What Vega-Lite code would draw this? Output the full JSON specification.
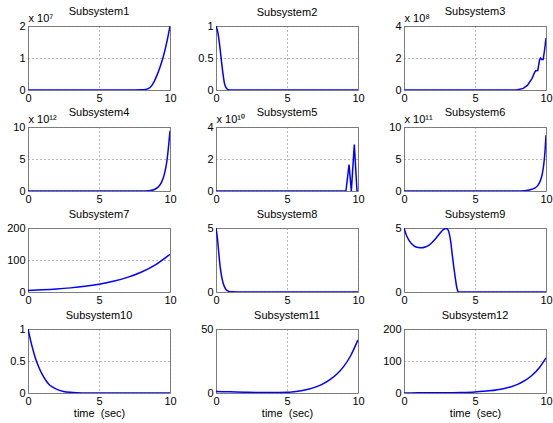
{
  "$schema": "https://vega.github.io/schema/vega-lite/v6.json",
  "background": "white",
  "padding": {"left": 6, "top": 5, "right": 5, "bottom": 5},
  "datasets": {
    "s1": [{"t":0,"v":0},{"t":5,"v":0},{"t":7.5,"v":0},{"t":8,"v":50000},{"t":8.3,"v":200000},{"t":8.5,"v":500000},{"t":8.7,"v":1300000},{"t":8.9,"v":2800000},{"t":9.1,"v":4800000},{"t":9.3,"v":7200000},{"t":9.5,"v":10000000},{"t":9.7,"v":13500000},{"t":9.85,"v":16500000},{"t":10,"v":20000000}],
    "s2": [{"t":0,"v":1},{"t":0.1,"v":0.93},{"t":0.2,"v":0.8},{"t":0.3,"v":0.62},{"t":0.4,"v":0.42},{"t":0.5,"v":0.24},{"t":0.6,"v":0.1},{"t":0.7,"v":0.04},{"t":0.8,"v":0.012},{"t":0.9,"v":0.003},{"t":1.1,"v":0},{"t":10,"v":0}],
    "s3": [{"t":0,"v":0},{"t":7.5,"v":0},{"t":8,"v":2000000},{"t":8.4,"v":10000000},{"t":8.7,"v":30000000},{"t":9.0,"v":70000000},{"t":9.2,"v":110000000},{"t":9.28,"v":120000000},{"t":9.42,"v":122000000},{"t":9.55,"v":190000000},{"t":9.62,"v":200000000},{"t":9.7,"v":190000000},{"t":9.8,"v":190000000},{"t":9.9,"v":250000000},{"t":10,"v":325000000}],
    "s4": [{"t":0,"v":0},{"t":8,"v":0},{"t":8.5,"v":50000000000},{"t":8.8,"v":150000000000},{"t":9.0,"v":350000000000},{"t":9.2,"v":700000000000},{"t":9.4,"v":1350000000000},{"t":9.6,"v":2600000000000},{"t":9.7,"v":3600000000000},{"t":9.8,"v":5000000000000},{"t":9.9,"v":7000000000000},{"t":10,"v":9400000000000}],
    "s5": [{"t":0,"v":0},{"t":9.15,"v":0},{"t":9.37,"v":16500000000},{"t":9.53,"v":0},{"t":9.74,"v":29000000000},{"t":9.93,"v":0},{"t":10,"v":0}],
    "s6": [{"t":0,"v":0},{"t":8,"v":0},{"t":8.5,"v":5000000000},{"t":8.9,"v":20000000000},{"t":9.2,"v":45000000000},{"t":9.4,"v":80000000000},{"t":9.6,"v":160000000000},{"t":9.75,"v":280000000000},{"t":9.85,"v":430000000000},{"t":9.93,"v":620000000000},{"t":10,"v":870000000000}],
    "s7": [{"t":0,"v":5},{"t":1,"v":6.9},{"t":2,"v":9.4},{"t":3,"v":12.9},{"t":4,"v":17.7},{"t":5,"v":24.3},{"t":6,"v":33.3},{"t":7,"v":45.6},{"t":8,"v":62.6},{"t":9,"v":85.8},{"t":10,"v":118}],
    "s8": [{"t":0,"v":5},{"t":0.1,"v":4.2},{"t":0.2,"v":3.0},{"t":0.3,"v":1.9},{"t":0.4,"v":1.2},{"t":0.5,"v":0.7},{"t":0.6,"v":0.4},{"t":0.7,"v":0.2},{"t":0.8,"v":0.1},{"t":0.9,"v":0.05},{"t":1.1,"v":0.01},{"t":1.5,"v":0},{"t":10,"v":0}],
    "s9": [{"t":0,"v":5.0},{"t":0.2,"v":4.35},{"t":0.4,"v":3.95},{"t":0.7,"v":3.6},{"t":1.0,"v":3.47},{"t":1.25,"v":3.45},{"t":1.5,"v":3.52},{"t":1.75,"v":3.65},{"t":2.0,"v":3.9},{"t":2.25,"v":4.2},{"t":2.5,"v":4.55},{"t":2.75,"v":4.85},{"t":2.95,"v":4.97},{"t":3.1,"v":4.85},{"t":3.2,"v":4.5},{"t":3.3,"v":3.85},{"t":3.4,"v":2.9},{"t":3.5,"v":2.0},{"t":3.6,"v":1.2},{"t":3.7,"v":0.45},{"t":3.8,"v":0.05},{"t":3.85,"v":0},{"t":10,"v":0}],
    "s10": [{"t":0,"v":1},{"t":0.25,"v":0.76},{"t":0.5,"v":0.56},{"t":0.75,"v":0.41},{"t":1,"v":0.29},{"t":1.25,"v":0.2},{"t":1.5,"v":0.13},{"t":1.75,"v":0.09},{"t":2,"v":0.06},{"t":2.5,"v":0.025},{"t":3,"v":0.01},{"t":3.5,"v":0.004},{"t":4,"v":0.001},{"t":5,"v":0},{"t":10,"v":0}],
    "s11": [{"t":0,"v":1.2},{"t":1,"v":0.9},{"t":2,"v":0.6},{"t":3,"v":0.4},{"t":4,"v":0.3},{"t":5,"v":0.5},{"t":5.5,"v":1.0},{"t":6,"v":1.8},{"t":6.5,"v":3.0},{"t":7,"v":4.6},{"t":7.5,"v":6.9},{"t":8,"v":10.2},{"t":8.5,"v":14.6},{"t":9,"v":20.8},{"t":9.5,"v":29.5},{"t":10,"v":41.5}],
    "s12": [{"t":0,"v":0.3},{"t":1,"v":0.4},{"t":2,"v":0.6},{"t":3,"v":1.0},{"t":4,"v":1.7},{"t":5,"v":3.3},{"t":6,"v":6.7},{"t":7,"v":13.4},{"t":7.5,"v":19},{"t":8,"v":27},{"t":8.5,"v":38.5},{"t":9,"v":54.6},{"t":9.5,"v":77.5},{"t":10,"v":110}]
  },
  "columns": 3,
  "spacing": {"row": 37, "column": 46},
  "bounds": "flush",
  "concat": [
    {"title":{"text":"Subsystem1","offset":-5},"width":142,"height":64,"data":{"name":"s1"},"mark":{"type":"line","interpolate":"monotone","clip":true},
     "encoding":{"x":{"field":"t","type":"quantitative","scale":{"domain":[0,10]},"axis":{"values":[0,5,10],"title":null}},
                 "y":{"field":"v","type":"quantitative","scale":{"domain":[0,20000000]},"axis":{"values":[0,10000000,20000000],"labelExpr":"format(datum.value/10000000,'~g')","title":"x 10⁷"}}}},
    {"title":{"text":"Subsystem2","offset":2},"width":142,"height":64,"data":{"name":"s2"},"mark":{"type":"line","interpolate":"monotone","clip":true},
     "encoding":{"x":{"field":"t","type":"quantitative","scale":{"domain":[0,10]},"axis":{"values":[0,5,10],"title":null}},
                 "y":{"field":"v","type":"quantitative","scale":{"domain":[0,1]},"axis":{"values":[0,0.5,1],"labelExpr":"'' + datum.value","title":null}}}},
    {"title":{"text":"Subsystem3","offset":-5},"width":142,"height":64,"data":{"name":"s3"},"mark":{"type":"line","clip":true},
     "encoding":{"x":{"field":"t","type":"quantitative","scale":{"domain":[0,10]},"axis":{"values":[0,5,10],"title":null}},
                 "y":{"field":"v","type":"quantitative","scale":{"domain":[0,400000000]},"axis":{"values":[0,200000000,400000000],"labelExpr":"format(datum.value/100000000,'~g')","title":"x 10⁸"}}}},
    {"title":{"text":"Subsystem4","offset":-5},"width":142,"height":64,"data":{"name":"s4"},"mark":{"type":"line","interpolate":"monotone","clip":true},
     "encoding":{"x":{"field":"t","type":"quantitative","scale":{"domain":[0,10]},"axis":{"values":[0,5,10],"title":null}},
                 "y":{"field":"v","type":"quantitative","scale":{"domain":[0,10000000000000]},"axis":{"values":[0,5000000000000,10000000000000],"labelExpr":"format(datum.value/1000000000000,'~g')","title":"x 10¹²"}}}},
    {"title":{"text":"Subsystem5","offset":-5},"width":142,"height":64,"data":{"name":"s5"},"mark":{"type":"line","clip":true},
     "encoding":{"x":{"field":"t","type":"quantitative","scale":{"domain":[0,10]},"axis":{"values":[0,5,10],"title":null}},
                 "y":{"field":"v","type":"quantitative","scale":{"domain":[0,40000000000]},"axis":{"values":[0,20000000000,40000000000],"labelExpr":"format(datum.value/10000000000,'~g')","title":"x 10¹⁰"}}}},
    {"title":{"text":"Subsystem6","offset":-5},"width":142,"height":64,"data":{"name":"s6"},"mark":{"type":"line","interpolate":"monotone","clip":true},
     "encoding":{"x":{"field":"t","type":"quantitative","scale":{"domain":[0,10]},"axis":{"values":[0,5,10],"title":null}},
                 "y":{"field":"v","type":"quantitative","scale":{"domain":[0,1000000000000]},"axis":{"values":[0,500000000000,1000000000000],"labelExpr":"format(datum.value/100000000000,'~g')","title":"x 10¹¹"}}}},
    {"title":{"text":"Subsystem7","offset":2},"width":142,"height":64,"data":{"name":"s7"},"mark":{"type":"line","interpolate":"monotone","clip":true},
     "encoding":{"x":{"field":"t","type":"quantitative","scale":{"domain":[0,10]},"axis":{"values":[0,5,10],"title":null}},
                 "y":{"field":"v","type":"quantitative","scale":{"domain":[0,200]},"axis":{"values":[0,100,200],"labelExpr":"'' + datum.value","title":null}}}},
    {"title":{"text":"Subsystem8","offset":2},"width":142,"height":64,"data":{"name":"s8"},"mark":{"type":"line","interpolate":"monotone","clip":true},
     "encoding":{"x":{"field":"t","type":"quantitative","scale":{"domain":[0,10]},"axis":{"values":[0,5,10],"title":null}},
                 "y":{"field":"v","type":"quantitative","scale":{"domain":[0,5]},"axis":{"values":[0,5],"labelExpr":"'' + datum.value","title":null}}}},
    {"title":{"text":"Subsystem9","offset":2},"width":142,"height":64,"data":{"name":"s9"},"mark":{"type":"line","interpolate":"monotone","clip":true},
     "encoding":{"x":{"field":"t","type":"quantitative","scale":{"domain":[0,10]},"axis":{"values":[0,5,10],"title":null}},
                 "y":{"field":"v","type":"quantitative","scale":{"domain":[0,5]},"axis":{"values":[0,5],"labelExpr":"'' + datum.value","title":null}}}},
    {"title":{"text":"Subsystem10","offset":2},"width":142,"height":64,"data":{"name":"s10"},"mark":{"type":"line","interpolate":"monotone","clip":true},
     "encoding":{"x":{"field":"t","type":"quantitative","scale":{"domain":[0,10]},"axis":{"values":[0,5,10],"title":"time\u00a0 (sec)"}},
                 "y":{"field":"v","type":"quantitative","scale":{"domain":[0,1]},"axis":{"values":[0,0.5,1],"labelExpr":"'' + datum.value","title":null}}}},
    {"title":{"text":"Subsystem11","offset":2},"width":142,"height":64,"data":{"name":"s11"},"mark":{"type":"line","interpolate":"monotone","clip":true},
     "encoding":{"x":{"field":"t","type":"quantitative","scale":{"domain":[0,10]},"axis":{"values":[0,5,10],"title":"time\u00a0 (sec)"}},
                 "y":{"field":"v","type":"quantitative","scale":{"domain":[0,50]},"axis":{"values":[0,50],"labelExpr":"'' + datum.value","title":null}}}},
    {"title":{"text":"Subsystem12","offset":2},"width":142,"height":64,"data":{"name":"s12"},"mark":{"type":"line","interpolate":"monotone","clip":true},
     "encoding":{"x":{"field":"t","type":"quantitative","scale":{"domain":[0,10]},"axis":{"values":[0,5,10],"title":"time\u00a0 (sec)"}},
                 "y":{"field":"v","type":"quantitative","scale":{"domain":[0,200]},"axis":{"values":[0,100,200],"labelExpr":"'' + datum.value","title":null}}}}
  ],
  "config": {
    "font": "Liberation Sans",
    "view": {"stroke": "#808080", "strokeWidth": 1, "fill": "white"},
    "axis": {"domain": false, "ticks": false, "labelFontSize": 11, "labelColor": "#000000", "labelFlush": false, "labelOverlap": false, "grid": true, "gridColor": "#707070", "gridDash": [1, 3], "gridWidth": 1, "titleFontSize": 11, "titleFontWeight": "normal", "titleColor": "#000000"},
    "axisX": {"labelPadding": 2, "titlePadding": 1},
    "axisY": {"labelPadding": 3, "titleAngle": 0, "titleAlign": "left", "titleBaseline": "alphabetic", "titleX": 0, "titleY": -5},
    "title": {"fontSize": 11, "fontWeight": "normal", "color": "#000000", "frame": "group", "font": "Liberation Sans"},
    "line": {"color": "#0000ff", "strokeWidth": 1.5}
  }
}
